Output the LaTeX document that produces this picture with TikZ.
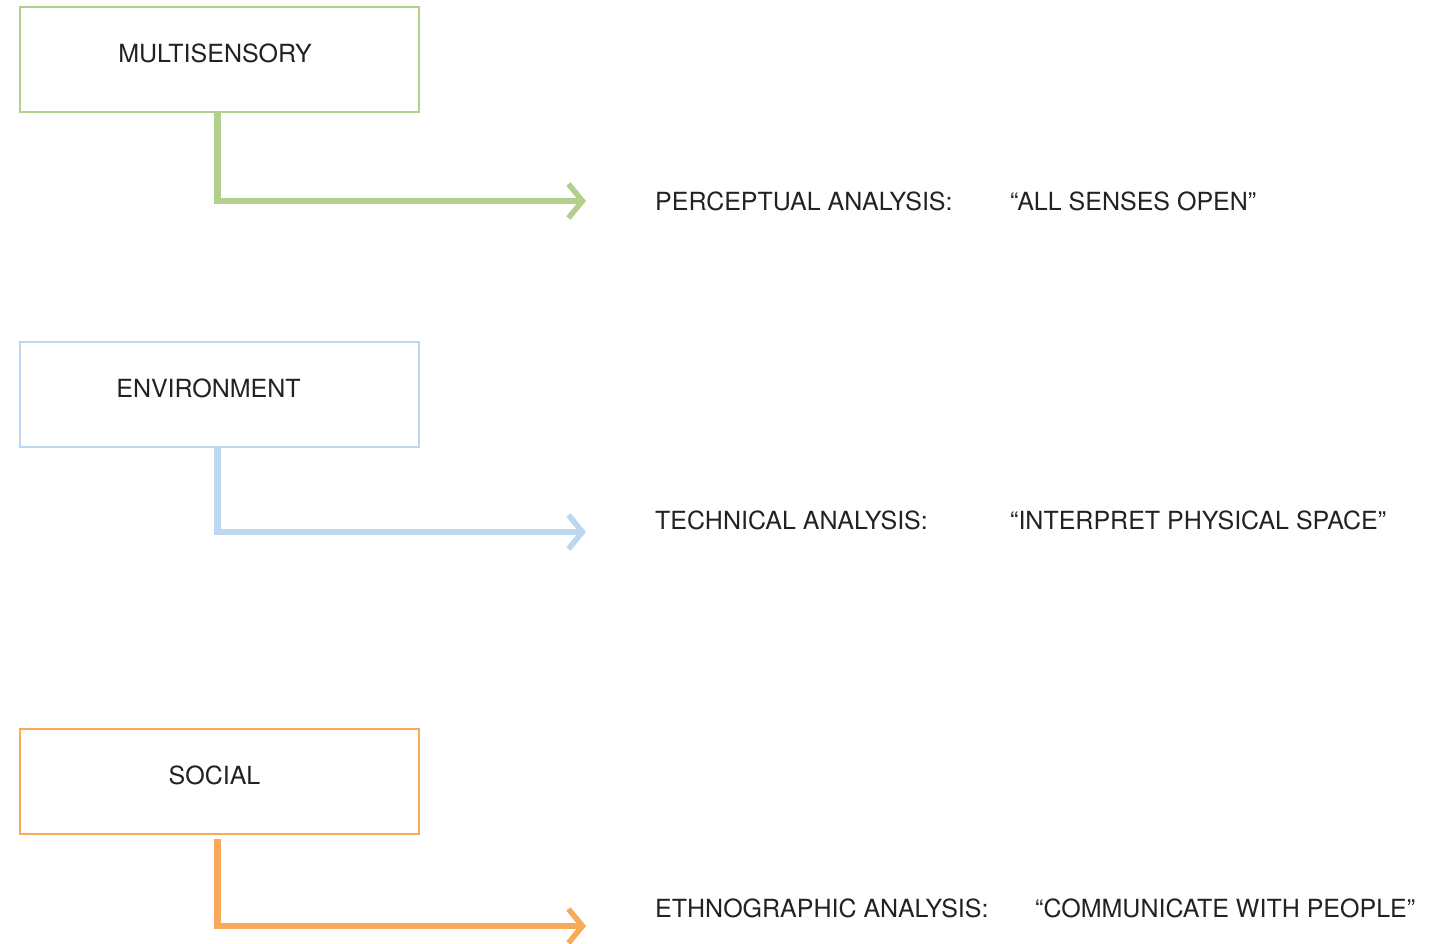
\documentclass[tikz,border=0pt]{standalone}
\usepackage{fontspec}
\setmainfont{TeX Gyre Heros}
\usepackage{tikz}
\usetikzlibrary{arrows.meta,positioning}

\definecolor{sensegreen}{HTML}{B2D08B}
\definecolor{envblue}{HTML}{BCD7EF}
\definecolor{socorange}{HTML}{F8A95A}
\definecolor{txtgray}{HTML}{222222}

\begin{document}
\begin{tikzpicture}[x=1pt,y=-1pt,
      font=\fontsize{25}{29}\selectfont,text=txtgray,
      box/.style={draw,line width=2pt,minimum width=399pt,minimum height=105pt,
        anchor=north west,inner sep=0pt,text height=0.72em,text depth=1pt},
      lbl/.style={anchor=west,inner sep=0pt,text height=0.72em,text depth=0pt},
      link/.style={line width=6.5pt,miter limit=20,shorten >=69pt,
        -{Straight Barb[length=14pt,width=34pt,line width=5.5pt]}}]
  \useasboundingbox (0,0) rectangle (1443,944);
      % boxes
			\node[box,draw=sensegreen] (multi) at (19,6) {MULTISENSORY\kern9pt};
			\node[box,draw=envblue] (env) at (19,341) {ENVIRONMENT\kern22pt};
      \node[box,draw=socorange] (soc) at (19,728) {SOCIAL\kern10pt};
      % labels
			\node[lbl] (perc) at (655,207) {PERCEPTUAL ANALYSIS:};
			\node[lbl] (percq) at (1010,207) {``ALL SENSES OPEN''};
			\node[lbl] (tech) at (655,526) {TECHNICAL ANALYSIS:};
			\node[lbl] (techq) at (1010,526) {``INTERPRET PHYSICAL SPACE''};
			\node[lbl] (ethno) at (655,914) {ETHNOGRAPHIC ANALYSIS:};
			\node[lbl] (ethnoq) at (1035,914) {``COMMUNICATE WITH PEOPLE''};
      % arrows
			\draw[link,sensegreen] ([xshift=-2pt]multi.south) |- ([yshift=6pt]perc.west);
			\draw[link,envblue] ([xshift=-2pt]env.south) |- ([yshift=-6pt]tech.west);
      \draw[link,socorange,shorten <=4pt] ([xshift=-2pt]soc.south) |- ([yshift=-12pt]ethno.west);
		\end{tikzpicture}
\end{document}
